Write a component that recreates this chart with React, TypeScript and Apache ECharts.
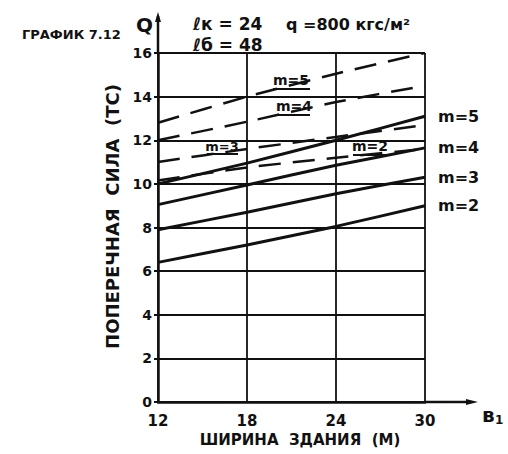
import React, { useEffect, useRef } from "react";
import * as echarts from "echarts";

const xValues = [12, 18, 24, 30];
const xTicks = [12, 18, 24, 30];
const yTicks = [0, 2, 4, 6, 8, 10, 12, 14, 16];

const solidNames = ["m=2", "m=3", "m=4", "m=5"];
const solidM2 = [6.4, 7.2, 8.05, 9.0];
const solidM3 = [7.9, 8.7, 9.55, 10.3];
const solidM4 = [9.05, 9.95, 10.85, 11.65];
const solidM5 = [10.0, 10.95, 12.0, 13.1];

const dashedNames = ["m=2", "m=3", "m=4", "m=5"];
const dashedM2 = [10.15, 10.75, 11.2, 11.6];
const dashedM3 = [11.0, 11.6, 12.15, 12.7];
const dashedM4 = [12.0, 12.85, 13.75, 14.5];
const dashedM5 = [12.8, 14.0, 15.05, 16.0];

const FONT = "DejaVu Sans";
const INK = "#111";

function pairs(ys: number[]) {
  return xValues.map((x, i) => [x, ys[i]]);
}

export default function App() {
  const ref = useRef<HTMLDivElement>(null);
  useEffect(() => {
    if (!ref.current) return;
    const chart = echarts.init(ref.current, null, { renderer: "svg" });
    const solid = [solidM2, solidM3, solidM4, solidM5];
    const dashed = [dashedM2, dashedM3, dashedM4, dashedM5];
    const series: any[] = [];
    solid.forEach((ys, i) => {
      series.push({
        type: "line",
        name: "solid " + solidNames[i],
        data: pairs(ys),
        showSymbol: false,
        smooth: 0.2,
        lineStyle: { color: INK, width: 3 },
        endLabel: {
          show: true,
          formatter: solidNames[i],
          distance: 13,
          color: INK,
          fontFamily: FONT,
          fontWeight: "bold",
          fontSize: 16,
        },
      });
    });
    dashed.forEach((ys, i) => {
      series.push({
        type: "line",
        name: "dashed " + dashedNames[i],
        data: pairs(ys),
        showSymbol: false,
        smooth: 0.2,
        lineStyle: { color: INK, width: 2.5, type: [22, 12] },
      });
    });

    const txt = (x: number, y: number, text: string, size: number, align = "left") => ({
      type: "text",
      x,
      y,
      style: {
        text,
        fill: INK,
        font: `bold ${size}px "${FONT}"`,
        textAlign: align,
        textVerticalAlign: "middle",
      },
    });
    const uline = (x1: number, x2: number, y: number) => ({
      type: "line",
      shape: { x1, y1: y, x2, y2: y },
      style: { stroke: INK, lineWidth: 2 },
    });

    chart.setOption({
      animation: false,
      backgroundColor: "#fff",
      grid: { left: 158, right: 83, top: 53, bottom: 52 },
      xAxis: {
        type: "value",
        min: 12,
        max: 30,
        interval: 6,
        name: "ШИРИНА  ЗДАНИЯ  (М)",
        nameLocation: "middle",
        nameGap: 23,
        nameTextStyle: {
          color: INK,
          fontFamily: FONT,
          fontWeight: "bold",
          fontSize: 15,
          padding: [0, 0, 0, 17],
        },
        axisLine: { show: true, lineStyle: { color: INK, width: 2.5 } },
        axisTick: { show: false },
        axisLabel: {
          color: INK,
          fontFamily: FONT,
          fontWeight: "bold",
          fontSize: 15,
          margin: 11,
          formatter: (v: number) => (xTicks.includes(v) ? String(v) : ""),
        },
        splitLine: { show: true, lineStyle: { color: INK, width: 1.8 } },
      },
      yAxis: {
        type: "value",
        min: 0,
        max: 16,
        interval: 2,
        name: "ПОПЕРЕЧНАЯ  СИЛА  (ТС)",
        nameLocation: "middle",
        nameRotate: 90,
        nameGap: 26,
        nameTextStyle: {
          color: INK,
          fontFamily: FONT,
          fontWeight: "bold",
          fontSize: 18,
          padding: [0, 0, 0, 22],
        },
        axisLine: { show: true, lineStyle: { color: INK, width: 2.5 } },
        axisTick: { show: true, length: 4, lineStyle: { color: INK, width: 2 } },
        axisLabel: {
          color: INK,
          fontFamily: FONT,
          fontWeight: "bold",
          fontSize: 14,
          margin: 6,
          formatter: (v: number) => (yTicks.includes(v) ? String(v) : ""),
        },
        splitLine: { show: true, lineStyle: { color: INK, width: 1.8 } },
      },
      graphic: [
        // axis extensions
        { type: "line", shape: { x1: 158, y1: 53, x2: 158, y2: 16 }, style: { stroke: INK, lineWidth: 2.5 } },
        { type: "polygon", shape: { points: [[158, 12], [155, 22], [161, 22]] }, style: { fill: INK } },
        { type: "line", shape: { x1: 425, y1: 402, x2: 470, y2: 402 }, style: { stroke: INK, lineWidth: 2.5 } },
        { type: "polygon", shape: { points: [[478, 402], [466, 399], [466, 405]] }, style: { fill: INK } },
        txt(482, 415, "в", 20),
        txt(495, 420, "1", 12),
        // header texts
        txt(22, 34, "ГРАФИК 7.12", 13),
        txt(136, 25, "Q", 20),
        txt(193, 24, "ℓк = 24", 17),
        txt(286, 24, "q =800 кгс/м²", 16),
        txt(193, 45, "ℓб = 48", 17),
        // dashed-line labels
        txt(291, 80, "m=5", 14, "center"),
        uline(273, 310, 89),
        txt(294, 106, "m=4", 14, "center"),
        uline(278, 310, 115),
        txt(222, 146, "m=3", 13, "center"),
        uline(207, 238, 154),
        txt(370, 146, "m=2", 14, "center"),
        uline(353, 388, 155),
      ],
      series,
    });
    return () => chart.dispose();
  }, []);
  return (
    <div
      ref={ref}
      style={{ position: "absolute", left: 0, top: 0, width: 508, height: 454, background: "#fff" }}
    />
  );
}
